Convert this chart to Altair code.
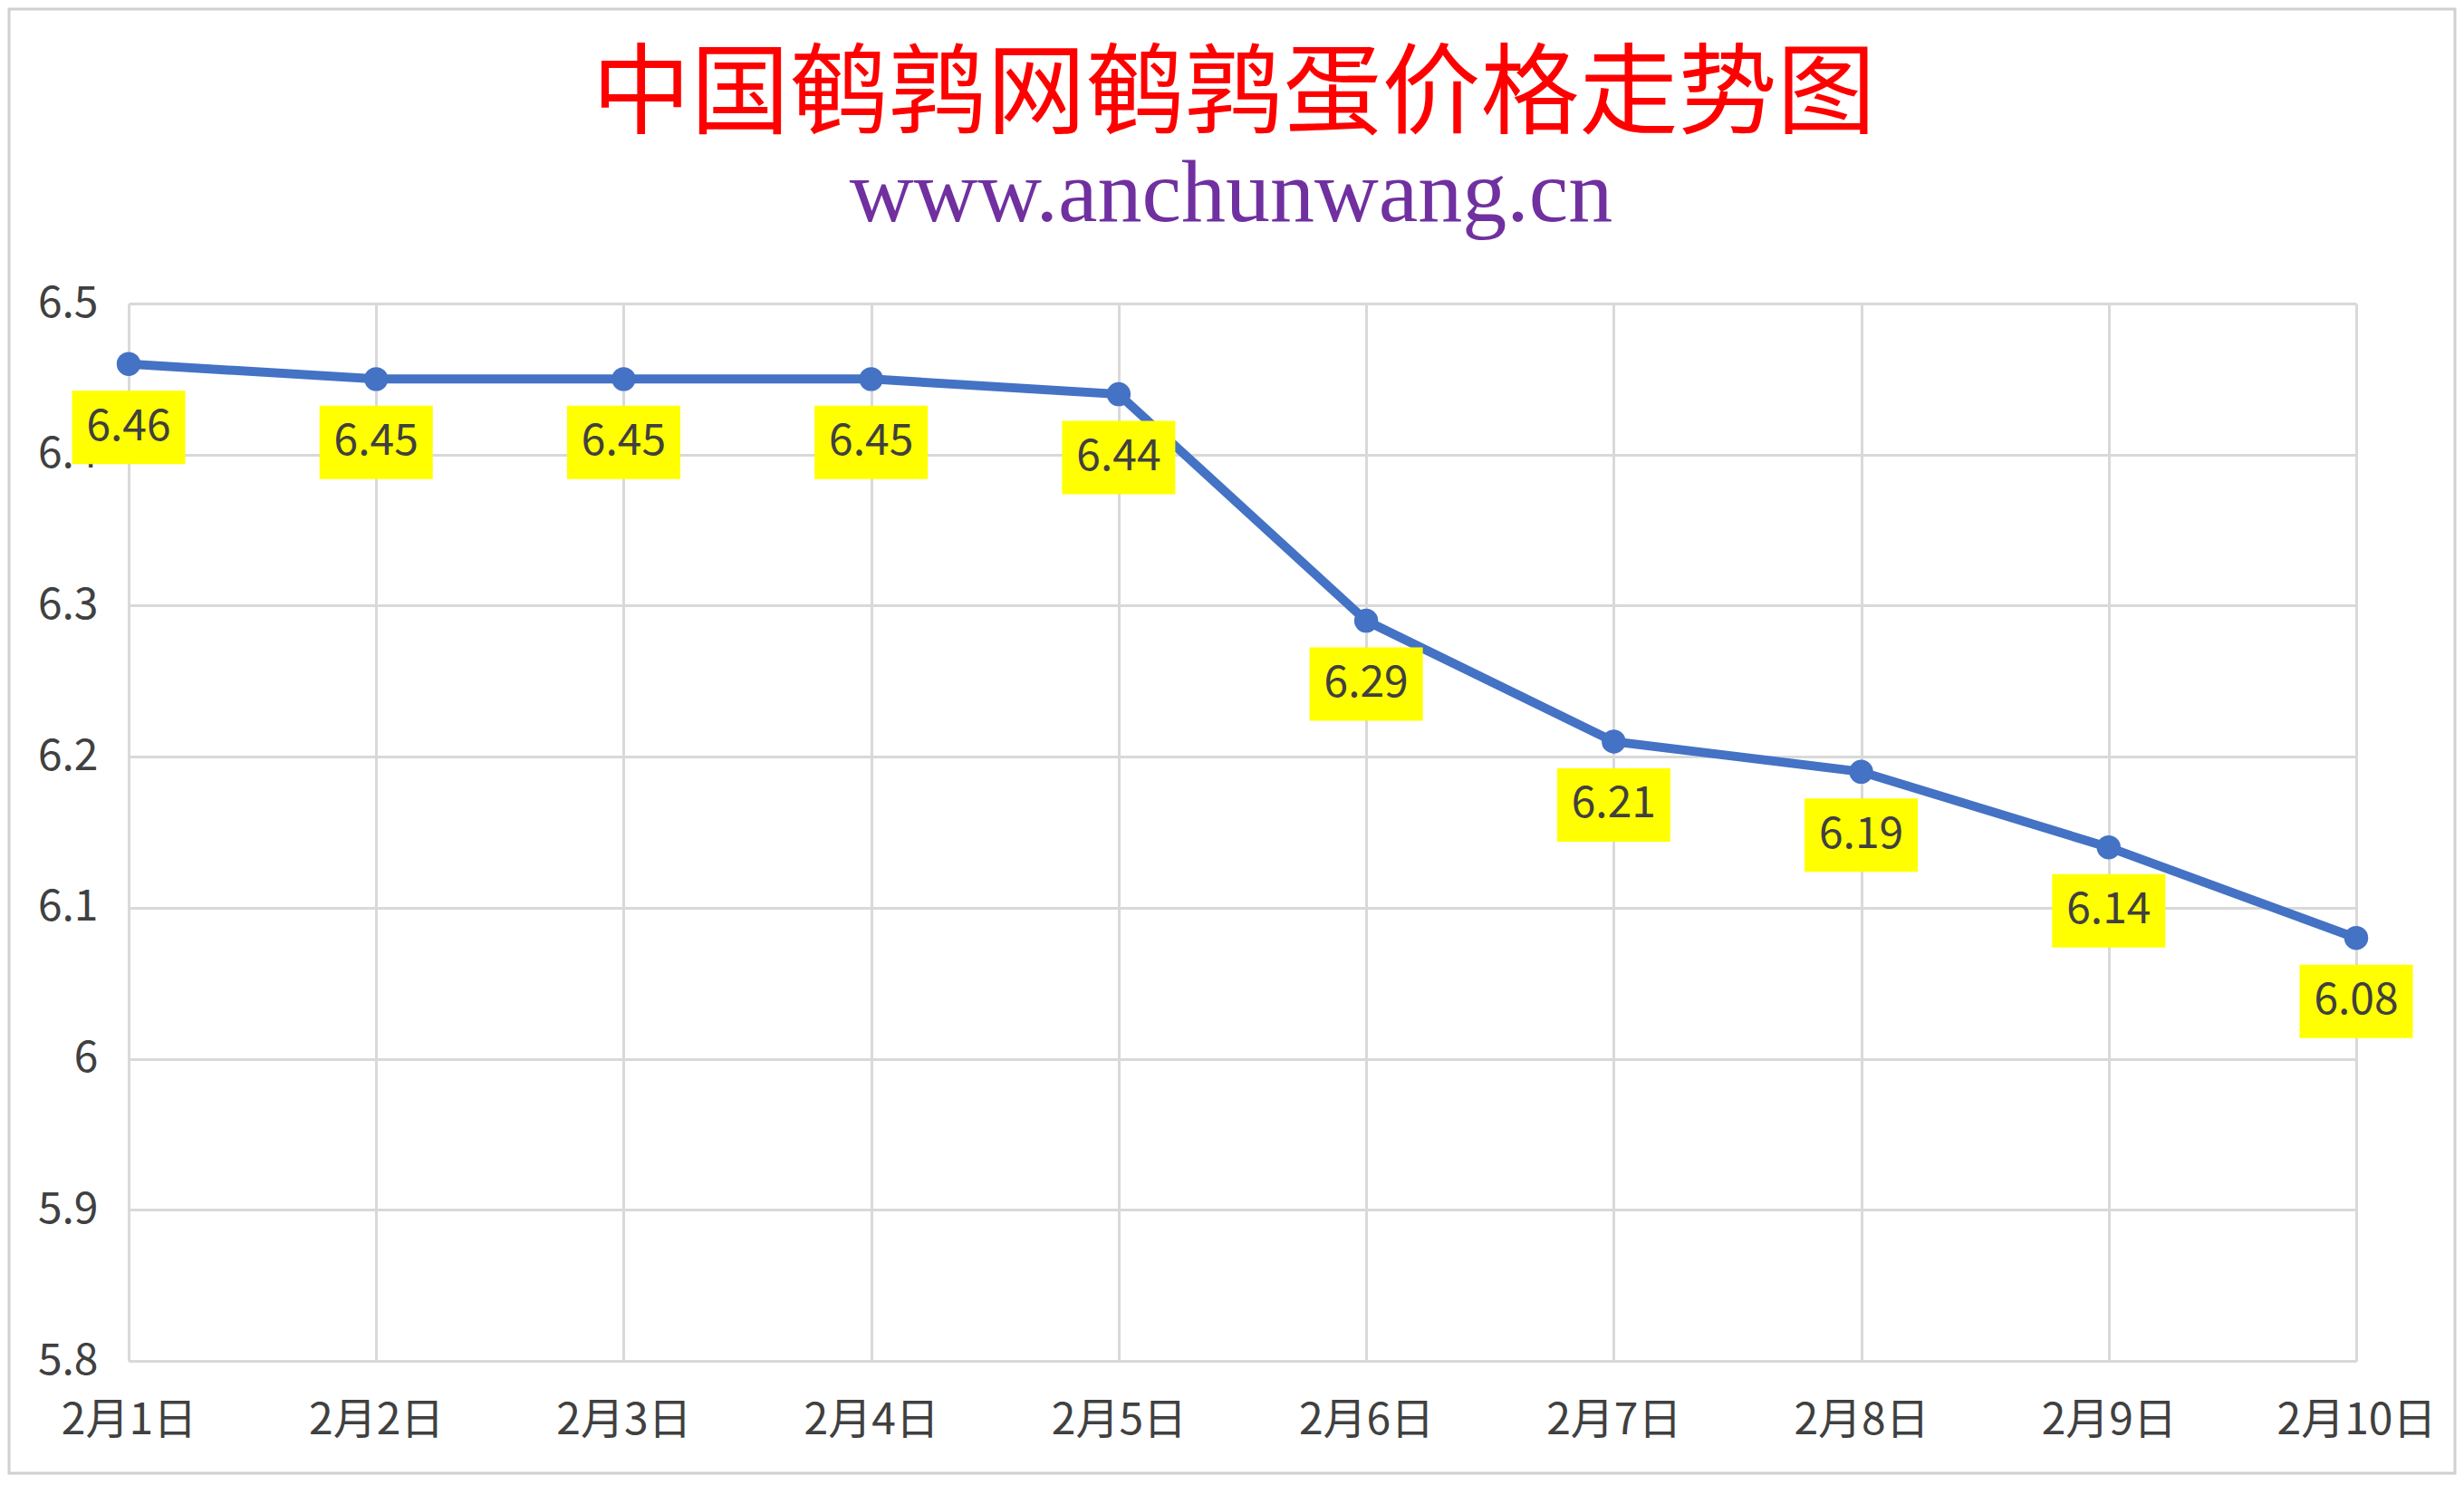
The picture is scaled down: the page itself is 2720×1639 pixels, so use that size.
import altair as alt
import pandas as pd

dates = ["2月1日", "2月2日", "2月3日", "2月4日", "2月5日",
         "2月6日", "2月7日", "2月8日", "2月9日", "2月10日"]
prices = [6.46, 6.45, 6.45, 6.45, 6.44, 6.29, 6.21, 6.19, 6.14, 6.08]
y_ticks = [5.8, 5.9, 6.0, 6.1, 6.2, 6.3, 6.4, 6.5]

title_text = "中国鹌鹑网鹌鹑蛋价格走势图"
subtitle_text = "www.anchunwang.cn"

df = pd.DataFrame({"date": dates, "price": prices})
df["label"] = [f"{p:.2f}" for p in prices]

W, H = 2459, 1167
PAD_L, PAD_T, PAD_R, PAD_B = 134, 327, 111, 126

x_enc = alt.X(
    "date:N",
    sort=dates,
    scale=alt.Scale(type="point", padding=0),
    axis=alt.Axis(
        title=None, labelAngle=0, ticks=False, domain=True,
        domainColor="#d9d9d9", domainWidth=3,
        grid=True, gridColor="#d9d9d9", gridWidth=3,
        labelFont="Noto Sans CJK SC", labelFontSize=48,
        labelColor="#404040", labelPadding=42,
    ),
)
y_enc = alt.Y(
    "price:Q",
    scale=alt.Scale(domain=[5.8, 6.5], nice=False, zero=False),
    axis=alt.Axis(
        title=None, values=y_ticks, ticks=False, domain=False,
        grid=True, gridColor="#d9d9d9", gridWidth=3,
        labelFont="Noto Sans CJK SC", labelFontSize=48,
        labelColor="#404040", labelPadding=34,
        labelExpr="format(datum.value, '.1~f')",
    ),
)

base = alt.Chart(df).encode(x=x_enc, y=y_enc)

line = base.mark_line(color="#4472C4", strokeWidth=10)
points = base.mark_point(filled=True, color="#4472C4", opacity=1, size=700)
boxes = base.mark_point(
    shape="M-1,-0.648L1,-0.648L1,0.648L-1,0.648Z",
    filled=True, color="#FFFF00", opacity=1, size=15625, yOffset=70,
)
labels = base.mark_text(
    font="Noto Sans CJK SC", fontSize=48, color="#404040",
    baseline="middle", align="center", yOffset=70,
).encode(text="label:N")

title = alt.Chart(pd.DataFrame({"t": [title_text]})).mark_text(
    font="Noto Sans CJK SC", fontSize=109, color="#FF0000",
    align="center", baseline="middle",
).encode(text="t:N", x=alt.value(1362 - 142), y=alt.value(106 - 335))

subtitle = alt.Chart(pd.DataFrame({"t": [subtitle_text]})).mark_text(
    font="Liberation Serif", fontSize=98, color="#7030A0",
    align="center", baseline="alphabetic",
).encode(text="t:N", x=alt.value(1359 - 142), y=alt.value(244 - 335))

frame = alt.Chart(pd.DataFrame({"a": [0]})).mark_rect(
    fill=None, stroke="#d0d0d0", strokeWidth=3
).encode(
    x=alt.value(-PAD_L + 2), x2=alt.value(W + PAD_R - 2),
    y=alt.value(-PAD_T + 2), y2=alt.value(H + PAD_B - 2),
)

chart = alt.layer(line, points, boxes, labels, title, subtitle, frame).properties(
    width=W, height=H,
    autosize=alt.AutoSizeParams(type="none"),
    padding={"left": PAD_L, "top": PAD_T, "right": PAD_R, "bottom": PAD_B},
    background="white",
).configure_view(stroke=None)

chart.save("out.html", embed_options={"renderer": "svg", "actions": False})
